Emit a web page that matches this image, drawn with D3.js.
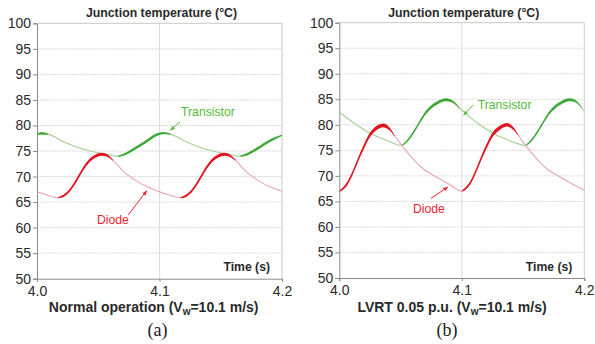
<!DOCTYPE html>
<html>
<head>
<meta charset="utf-8">
<script src="https://cdn.jsdelivr.net/npm/d3@7"></script>
<style>
  body { margin: 0; background: #fff; }
  svg { display: block; }
</style>
</head>
<body>
<div id="chart"></div>
<script>
// ---- data (time in s, junction temperature in °C) ----
const timeTicks = [4.0, 4.1, 4.2];
const tempTicks = [50, 55, 60, 65, 70, 75, 80, 85, 90, 95, 100];

// (a) normal operation
const normTransistor = [
  [4.000, 78.3], [4.004, 78.45], [4.009, 78.3], [4.015, 77.7], [4.020, 77.0],
  [4.030, 76.0], [4.040, 75.2], [4.050, 74.65], [4.058, 74.3], [4.066, 73.95],
  [4.072, 74.4], [4.080, 75.5], [4.090, 77.0], [4.097, 78.1], [4.103, 78.5],
  [4.109, 78.3], [4.115, 77.7], [4.120, 77.0], [4.130, 76.0], [4.140, 75.2],
  [4.150, 74.65], [4.158, 74.3], [4.166, 73.95], [4.172, 74.4], [4.180, 75.5],
  [4.190, 77.0], [4.200, 78.1]
];
const normDiode = [
  [4.000, 67.0], [4.008, 66.4], [4.017, 65.85], [4.022, 66.3], [4.026, 67.1],
  [4.030, 68.4], [4.034, 70.0], [4.038, 71.6], [4.042, 72.9], [4.047, 73.9],
  [4.053, 74.35], [4.058, 74.0], [4.062, 73.2], [4.066, 72.2], [4.070, 71.1],
  [4.076, 70.0], [4.082, 69.0], [4.090, 68.0], [4.100, 67.0], [4.108, 66.4],
  [4.117, 65.85], [4.122, 66.3], [4.126, 67.1], [4.130, 68.4], [4.134, 70.0],
  [4.138, 71.6], [4.142, 72.9], [4.147, 73.9], [4.153, 74.35], [4.158, 74.0],
  [4.162, 73.2], [4.166, 72.2], [4.170, 71.1], [4.176, 70.0], [4.182, 69.0],
  [4.190, 68.0], [4.200, 67.1]
];
// conduction (heating) intervals where the switching ripple shows
const normTransistorOn = [[4.000, 4.009], [4.066, 4.109], [4.166, 4.200]];
const normDiodeOn = [[4.017, 4.062], [4.117, 4.162]];

// (b) LVRT 0.05 p.u.
const lvrtTransistor = [
  [4.000, 82.5], [4.007, 81.2], [4.014, 80.0], [4.021, 78.9], [4.028, 78.0],
  [4.035, 77.3], [4.042, 76.6], [4.051, 75.95], [4.056, 77.0], [4.061, 78.7],
  [4.066, 80.7], [4.070, 82.2], [4.075, 83.5], [4.080, 84.3], [4.087, 84.9],
  [4.092, 84.6], [4.098, 83.3], [4.100, 82.9], [4.107, 81.4], [4.114, 80.1],
  [4.121, 79.0], [4.128, 78.0], [4.135, 77.3], [4.142, 76.6], [4.152, 75.95],
  [4.157, 77.0], [4.162, 78.7], [4.167, 80.7], [4.171, 82.2], [4.176, 83.5],
  [4.181, 84.3], [4.188, 84.9], [4.193, 84.6], [4.198, 83.3], [4.200, 82.6]
];
const lvrtDiode = [
  [4.000, 67.0], [4.005, 68.0], [4.009, 69.6], [4.013, 71.8], [4.017, 74.1],
  [4.021, 76.2], [4.025, 78.0], [4.030, 79.3], [4.036, 79.9], [4.041, 79.2],
  [4.045, 77.9], [4.049, 76.6], [4.053, 75.4], [4.058, 73.9], [4.063, 72.6],
  [4.070, 71.1], [4.080, 69.7], [4.090, 68.3], [4.100, 67.0], [4.105, 68.0],
  [4.109, 69.6], [4.113, 71.8], [4.117, 74.1], [4.121, 76.2], [4.125, 78.0],
  [4.131, 79.4], [4.137, 80.0], [4.142, 79.3], [4.146, 78.0], [4.150, 76.6],
  [4.154, 75.4], [4.159, 73.9], [4.164, 72.6], [4.171, 71.1], [4.181, 69.7],
  [4.191, 68.3], [4.200, 67.2]
];
const lvrtTransistorOn = [[4.051, 4.098], [4.152, 4.198]];
const lvrtDiodeOn = [[4.000, 4.045], [4.100, 4.146]];

// ---- drawing ----
const W = 595, H = 344;
const SANS = '"Liberation Sans", Arial, sans-serif';
const colors = {
  tThin: '#a3d193', tThick: '#3fa83a', tText: '#55bb3a',
  dThin: '#eaa5b2', dThick: '#e2141f', dText: '#ee2230'
};

const svg = d3.select('#chart').append('svg')
  .attr('width', W).attr('height', H)
  .style('font-family', SANS);
svg.append('rect').attr('width', W).attr('height', H).attr('fill', '#fff');

const defs = svg.append('defs');
[['arrG', colors.tText], ['arrR', colors.dText]].forEach(([id, c]) => {
  defs.append('marker')
    .attr('id', id).attr('viewBox', '0 0 10 10')
    .attr('refX', 9).attr('refY', 5)
    .attr('markerWidth', 5).attr('markerHeight', 5)
    .attr('orient', 'auto')
    .append('path').attr('d', 'M0,1 L10,5 L0,9 Z').attr('fill', c);
});

const panels = [
  {
    box: [37, 282, 278.7, 23.3],
    caption: ['Normal operation (V', 'w', '=10.1 m/s)'], captionX: 153.7, letter: '(a)', letterX: 157.5,
    transistor: normTransistor, diode: normDiode,
    tOn: normTransistorOn, dOn: normDiodeOn, tHw: 1.0, dHw: 1.25,
    notes: [
      { text: 'Transistor', color: colors.tText, marker: 'arrG', at: [4.1176, 82.7], from: [4.1167, 80.7], to: [4.1089, 79.1] },
      { text: 'Diode', color: colors.dText, marker: 'arrR', at: [4.049, 61.55], from: [4.0745, 62.5], to: [4.0895, 67.2] }
    ]
  },
  {
    box: [339.3, 584.3, 278, 22.7],
    caption: ['LVRT 0.05 p.u. (V', 'w', '=10.1 m/s)'], captionX: 452, letter: '(b)', letterX: 447,
    transistor: lvrtTransistor, diode: lvrtDiode,
    tOn: lvrtTransistorOn, dOn: lvrtDiodeOn, tHw: 1.2, dHw: 1.7,
    notes: [
      { text: 'Transistor', color: colors.tText, marker: 'arrG', at: [4.113, 83.9], from: [4.1094, 83.9], to: [4.1015, 81.9] },
      { text: 'Diode', color: colors.dText, marker: 'arrR', at: [4.0602, 63.6], from: [4.0749, 65.6], to: [4.0885, 67.8] }
    ]
  }
];

panels.forEach(p => {
  const [xl, xr, yb, yt] = p.box;
  const x = d3.scaleLinear().domain([4.0, 4.2]).range([xl, xr]);
  const y = d3.scaleLinear().domain([50, 100]).range([yb, yt]);
  const g = svg.append('g');

  // grid
  g.append('g').selectAll('line')
    .data(tempTicks.filter(v => v > 50 && v < 100))
    .join('line')
    .attr('x1', xl).attr('x2', xr)
    .attr('y1', d => y(d)).attr('y2', d => y(d))
    .attr('stroke', '#d4d4d4').attr('stroke-width', 1)
    .attr('stroke-dasharray', '1.5,1');
  g.append('line')
    .attr('x1', x(4.1)).attr('x2', x(4.1)).attr('y1', yt).attr('y2', yb)
    .attr('stroke', '#dcdcdc').attr('stroke-width', 1);
  // top + right frame
  g.append('path')
    .attr('d', `M${xl},${yt}H${xr}V${yb}`)
    .attr('fill', 'none').attr('stroke', '#c8c8c8').attr('stroke-width', 1);

  // axes
  const ax = g.append('g').attr('transform', `translate(0,${yb})`)
    .call(d3.axisBottom(x).tickValues(timeTicks).tickFormat(d3.format('.1f')).tickSize(3).tickPadding(4));
  const ay = g.append('g').attr('transform', `translate(${xl},0)`)
    .call(d3.axisLeft(y).tickValues(tempTicks).tickSize(4).tickPadding(2));
  [ax, ay].forEach(a => {
    a.select('.domain').attr('stroke', '#8a8a8a');
    a.selectAll('.tick line').attr('stroke', '#8a8a8a');
    a.selectAll('text').attr('font-size', 14).attr('fill', '#2a2a2a')
      .attr('font-family', SANS);
  });

  // curves
  const line = d3.line().x(d => x(d[0])).y(d => y(d[1])).curve(d3.curveMonotoneX);
  const band = (series, on, color, maxHw) => {
    on.forEach(([a, b]) => {
      const pts = series.filter(d => d[0] >= a - 1e-9 && d[0] <= b + 1e-9);
      const hw = d => {
        const f = (d[0] - a) / (b - a);
        return 0.5 + maxHw * Math.sqrt(Math.max(0, Math.sin(Math.PI * f)));
      };
      const area = d3.area().x(d => x(d[0]))
        .y0(d => y(d[1]) - hw(d)).y1(d => y(d[1]) + hw(d))
        .curve(d3.curveMonotoneX);
      g.append('path').datum(pts).attr('d', area).attr('fill', color);
    });
  };

  g.append('path').datum(p.transistor).attr('d', line)
    .attr('fill', 'none').attr('stroke', colors.tThin).attr('stroke-width', 1.1);
  band(p.transistor, p.tOn, colors.tThick, p.tHw);
  g.append('path').datum(p.diode).attr('d', line)
    .attr('fill', 'none').attr('stroke', colors.dThin).attr('stroke-width', 1.1);
  band(p.diode, p.dOn, colors.dThick, p.dHw);

  // annotations
  p.notes.forEach(n => {
    g.append('line')
      .attr('x1', x(n.from[0])).attr('y1', y(n.from[1]))
      .attr('x2', x(n.to[0])).attr('y2', y(n.to[1]))
      .attr('stroke', n.color).attr('stroke-width', 1)
      .attr('marker-end', `url(#${n.marker})`);
    g.append('text')
      .attr('x', x(n.at[0])).attr('y', y(n.at[1])).attr('dy', '0.35em')
      .attr('font-size', 12.2).attr('fill', n.color).text(n.text);
  });

  // titles and labels
  const cx = (xl + xr) / 2;
  g.append('text').attr('x', cx + 2).attr('y', yt - 6)
    .attr('text-anchor', 'middle').attr('font-size', 12.3).attr('font-weight', 'bold')
    .attr('fill', '#2a2a2a').text('Junction temperature (°C)');
  g.append('text').attr('x', xr - 12).attr('y', yb - 7.5)
    .attr('text-anchor', 'end').attr('font-size', 12.2).attr('font-weight', 'bold')
    .attr('fill', '#2a2a2a').text('Time (s)');

  const cap = g.append('text').attr('x', p.captionX).attr('y', 312)
    .attr('text-anchor', 'middle').attr('font-size', 14).attr('font-weight', 'bold')
    .attr('fill', '#2a2a2a');
  cap.append('tspan').text(p.caption[0]);
  cap.append('tspan').attr('font-size', 10).attr('dy', 3).text(p.caption[1]);
  cap.append('tspan').attr('dy', -3).text(p.caption[2]);

  g.append('text').attr('x', p.letterX).attr('y', 336)
    .attr('text-anchor', 'middle').attr('font-size', 18)
    .style('font-family', '"Liberation Serif", "Times New Roman", serif')
    .attr('fill', '#222').text(p.letter);
});
</script>
</body>
</html>
